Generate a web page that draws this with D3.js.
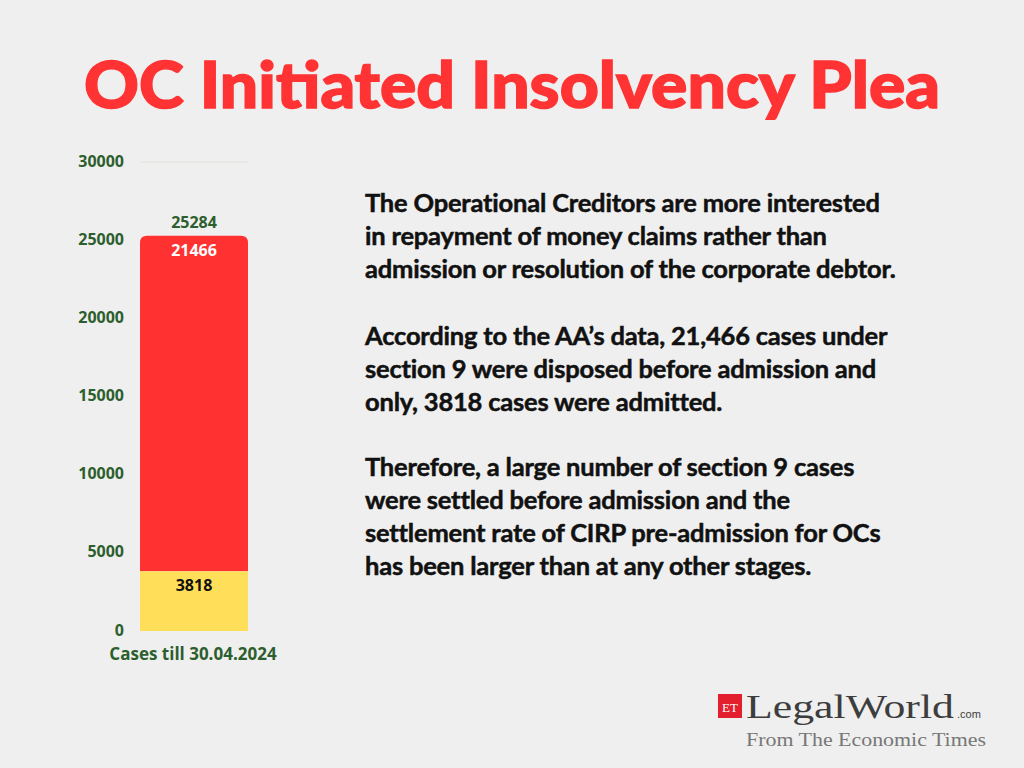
<!DOCTYPE html>
<html>
<head>
<meta charset="utf-8">
<script src="https://cdn.jsdelivr.net/npm/d3@7"></script>
<style>
  body { margin: 0; background: #efefef; }
  svg { display: block; }
</style>
</head>
<body>
<svg id="chart"></svg>
<script>
// chart data
const categories = ["Cases till 30.04.2024"];
const admitted = [3818];
const disposedBefore = [21466];
const totals = [25284];
const yTicks = [0, 5000, 10000, 15000, 20000, 25000, 30000];

const titleText = "OC Initiated Insolvency Plea";
const paragraphs = [
  ["The Operational Creditors are more interested",
   "in repayment of money claims rather than",
   "admission or resolution of the corporate debtor."],
  ["According to the AA\u2019s data, 21,466 cases under",
   "section 9 were disposed before admission and",
   "only, 3818 cases were admitted."],
  ["Therefore, a large number of section 9 cases",
   "were settled before admission and the",
   "settlement rate of CIRP pre-admission for OCs",
   "has been larger than at any other stages."]
];

const width = 1024;
const height = 768;
const svg = d3.select("#chart").attr("width", width).attr("height", height);

// background
svg.append("rect").attr("width", width).attr("height", height).attr("fill", "#efefef");

// title
svg.append("text")
  .attr("x", 512)
  .attr("y", 108)
  .attr("text-anchor", "middle")
  .attr("font-family", "Lato")
  .attr("font-weight", 900)
  .attr("font-size", 64)
  .attr("fill", "#ff3333")
  .attr("stroke", "#ff3333")
  .attr("stroke-width", 1.5)
  .attr("textLength", 856)
  .attr("lengthAdjust", "spacingAndGlyphs")
  .text(titleText);

// scales
const x = d3.scaleBand().domain(categories).range([140, 248]).padding(0);
const y = d3.scaleLinear().domain([0, 30000]).range([631, 162]);
const green = "#2d5e2d";

// top gridline only
svg.append("line")
  .attr("x1", 140).attr("x2", 248)
  .attr("y1", y(30000)).attr("y2", y(30000))
  .attr("stroke", "#dde4d8").attr("stroke-width", 1);

const yAxis = svg.append("g")
  .attr("transform", "translate(127,0)")
  .call(d3.axisLeft(y).tickValues(yTicks).tickSize(0).tickFormat(d3.format("d")));
yAxis.select(".domain").remove();
yAxis.selectAll("text")
  .attr("dy", "0.25em")
  .attr("font-family", "Open Sans")
  .attr("font-weight", 700)
  .attr("font-size", 16)
  .attr("fill", green);

// bars
const bw = x.bandwidth();
const r = 7;
categories.forEach((c, i) => {
  const x0 = x(c);
  const yTop = y(totals[i]);
  const yMid = y(admitted[i]);
  // red segment with rounded top
  svg.append("path")
    .attr("d", `M${x0},${yMid} V${yTop + r} Q${x0},${yTop} ${x0 + r},${yTop} H${x0 + bw - r} Q${x0 + bw},${yTop} ${x0 + bw},${yTop + r} V${yMid} Z`)
    .attr("fill", "#ff3131");
  svg.append("rect")
    .attr("x", x0).attr("y", yMid)
    .attr("width", bw).attr("height", y(0) - yMid)
    .attr("fill", "#ffde59");

  svg.append("text")
    .attr("x", x0 + bw / 2).attr("y", yTop - 8)
    .attr("text-anchor", "middle")
    .attr("font-family", "Open Sans").attr("font-weight", 700).attr("font-size", 16)
    .attr("fill", green).text(totals[i]);
  svg.append("text")
    .attr("x", x0 + bw / 2).attr("y", yTop + 20)
    .attr("text-anchor", "middle")
    .attr("font-family", "Open Sans").attr("font-weight", 700).attr("font-size", 16)
    .attr("fill", "#ffffff").text(disposedBefore[i]);
  svg.append("text")
    .attr("x", x0 + bw / 2).attr("y", yMid + 20)
    .attr("text-anchor", "middle")
    .attr("font-family", "Open Sans").attr("font-weight", 700).attr("font-size", 16)
    .attr("fill", "#111111").text(admitted[i]);
  svg.append("text")
    .attr("x", x0 + bw / 2 - 1).attr("y", 660)
    .attr("text-anchor", "middle")
    .attr("font-family", "Open Sans").attr("font-weight", 700).attr("font-size", 17)
    .attr("fill", green).text(c);
});

// paragraphs on the right
const paraTops = [212, 345, 476];
paragraphs.forEach((lines, p) => {
  lines.forEach((line, j) => {
    svg.append("text")
      .attr("x", 365)
      .attr("y", paraTops[p] + j * 33)
      .attr("font-family", "Lato")
      .attr("font-weight", 700)
      .attr("font-size", 25.5)
      .attr("letter-spacing", -0.2)
      .attr("fill", "#111111")
      .attr("stroke", "#111111")
      .attr("stroke-width", 0.5)
      .text(line);
  });
});

// logo
const logo = svg.append("g");
logo.append("rect").attr("x", 718).attr("y", 694).attr("width", 24).attr("height", 24).attr("fill", "#e31e2d");
logo.append("text").attr("x", 730).attr("y", 712).attr("text-anchor", "middle")
  .attr("font-family", "Liberation Serif").attr("font-size", 13).attr("fill", "#fff").text("ET");
logo.append("text").attr("x", 746).attr("y", 718)
  .attr("font-family", "Liberation Serif").attr("font-size", 34).attr("fill", "#3d3d3d")
  .attr("textLength", 208).attr("lengthAdjust", "spacingAndGlyphs").text("LegalWorld");
logo.append("text").attr("x", 957).attr("y", 718)
  .attr("font-family", "Liberation Sans").attr("font-size", 11).attr("fill", "#3d3d3d").text(".com");
logo.append("text").attr("x", 746).attr("y", 746)
  .attr("font-family", "Liberation Serif").attr("font-size", 19).attr("fill", "#777")
  .attr("textLength", 240).attr("lengthAdjust", "spacingAndGlyphs").text("From The Economic Times");
</script>
</body>
</html>
